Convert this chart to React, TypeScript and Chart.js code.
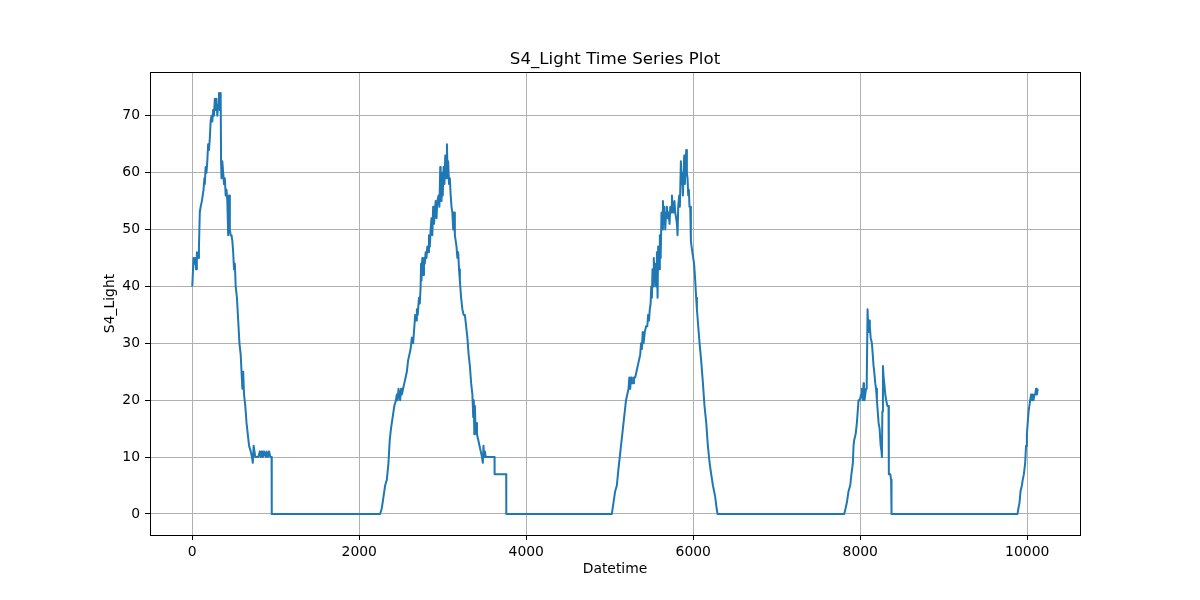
import React, { useEffect, useRef } from "react";
import { Chart, registerables } from "chart.js";

Chart.register(...registerables);

const chartTitle = "S4_Light Time Series Plot";
const xAxisTitle = "Datetime";
const yAxisTitle = "S4_Light";
const xTicks = [0, 2000, 4000, 6000, 8000, 10000];
const yTicks = [0, 10, 20, 30, 40, 50, 60, 70];

// [index, S4_Light]
const day1: [number, number][] = [
  [0, 40], [15, 45], [25, 44], [35, 45], [45, 43], [55, 46], [70, 45], [80, 47], [90, 53], [100, 54],
  [115, 55], [125, 56], [135, 57], [145, 59], [150, 58], [160, 61], [170, 60], [180, 62], [190, 65],
  [200, 64], [210, 66], [220, 69], [230, 70], [240, 69], [250, 71], [260, 70], [270, 73], [280, 71],
  [290, 73], [300, 70], [310, 72], [320, 74], [330, 71], [340, 74], [345, 62], [350, 59], [360, 62],
  [370, 60], [380, 58], [390, 59], [400, 56], [410, 57], [420, 55], [430, 49], [440, 56], [450, 50],
  [460, 49], [470, 49], [480, 48], [490, 46], [500, 43], [510, 44], [520, 40], [535, 38], [550, 34],
  [565, 30], [580, 28], [590, 25], [600, 22], [610, 25], [620, 21], [635, 19], [650, 16], [665, 14],
  [680, 12], [700, 11], [715, 10], [725, 9], [735, 12], [745, 11], [755, 10], [790, 10], [810, 11],
  [820, 10], [835, 11], [845, 10], [860, 11], [880, 10], [890, 11], [905, 10], [920, 11], [935, 10],
  [950, 10], [952, 0],
];
const night1: [number, number][] = [[952, 0], [2250, 0]];
const day2: [number, number][] = [
  [2250, 0], [2270, 1], [2290, 3], [2310, 5], [2330, 6], [2350, 9], [2365, 13], [2380, 15], [2400, 17],
  [2420, 19], [2440, 20], [2450, 21], [2460, 20], [2470, 22], [2480, 21], [2490, 20], [2500, 22],
  [2510, 21], [2525, 22], [2540, 23], [2555, 24], [2570, 25], [2585, 27], [2600, 28], [2615, 29],
  [2630, 31], [2645, 30], [2660, 33], [2670, 35], [2680, 34], [2690, 36], [2700, 35], [2715, 38],
  [2725, 37], [2735, 40], [2740, 44], [2745, 41], [2755, 45], [2765, 42], [2775, 45], [2785, 44],
  [2795, 46], [2805, 45], [2815, 47], [2825, 46], [2835, 49], [2845, 47], [2855, 50], [2865, 52],
  [2875, 49], [2885, 54], [2895, 51], [2905, 53], [2915, 55], [2925, 52], [2935, 55], [2950, 56],
  [2960, 54], [2970, 61], [2975, 57], [2985, 55], [2995, 60], [3000, 56], [3010, 61], [3020, 58],
  [3030, 63], [3040, 59], [3050, 65], [3058, 60], [3065, 62], [3075, 58], [3085, 59], [3095, 56],
  [3105, 54], [3115, 53], [3125, 50], [3135, 53], [3145, 49], [3155, 48], [3165, 47], [3175, 45],
  [3185, 46], [3195, 43], [3205, 41], [3220, 38], [3235, 36], [3250, 35], [3265, 35], [3280, 33],
  [3295, 31], [3310, 28], [3325, 26], [3340, 23], [3355, 21], [3365, 17], [3372, 20], [3378, 14],
  [3385, 19], [3392, 15], [3400, 16], [3410, 14], [3425, 13], [3440, 12], [3455, 11], [3470, 10],
  [3480, 9], [3488, 12], [3495, 10], [3505, 11], [3515, 10], [3530, 10], [3620, 10], [3621, 7],
  [3760, 7], [3761, 0],
];
const night2: [number, number][] = [[3761, 0], [5025, 0]];
const day3: [number, number][] = [
  [5025, 0], [5045, 2], [5065, 4], [5085, 5], [5105, 8], [5120, 10], [5135, 12], [5150, 14], [5165, 16],
  [5180, 18], [5195, 20], [5210, 21], [5225, 22], [5235, 24], [5245, 22], [5255, 24], [5265, 23],
  [5280, 23], [5290, 24], [5305, 24], [5320, 25], [5335, 26], [5350, 27], [5365, 28], [5375, 30],
  [5385, 29], [5395, 32], [5405, 30], [5420, 32], [5435, 33], [5450, 33], [5460, 35], [5470, 34],
  [5480, 36], [5490, 37], [5497, 40], [5505, 38], [5512, 43], [5520, 40], [5528, 45], [5535, 41],
  [5545, 44], [5555, 40], [5565, 46], [5573, 38], [5580, 47], [5590, 43], [5600, 49], [5610, 45],
  [5620, 53], [5630, 50], [5637, 55], [5645, 51], [5655, 54], [5665, 50], [5675, 53], [5685, 54],
  [5695, 52], [5705, 53], [5716, 51], [5725, 54], [5735, 53], [5745, 56], [5752, 54], [5765, 53],
  [5775, 55], [5784, 53], [5795, 52], [5805, 51], [5812, 49], [5820, 54], [5832, 56], [5840, 54],
  [5852, 62], [5860, 58], [5868, 60], [5876, 56], [5885, 60], [5892, 63], [5900, 58], [5908, 61],
  [5916, 64], [5924, 60], [5932, 59], [5940, 56], [5948, 57], [5955, 54], [5964, 54], [5972, 48],
  [5980, 47], [5990, 46], [6000, 45], [6010, 44], [6024, 41], [6035, 38], [6044, 36], [6060, 33],
  [6076, 30], [6095, 27], [6116, 23], [6135, 19], [6156, 16], [6175, 12], [6196, 9], [6215, 7],
  [6236, 5], [6250, 4], [6263, 3], [6280, 1], [6291, 0],
];
const night3: [number, number][] = [[6291, 0], [7808, 0]];
const day4: [number, number][] = [
  [7808, 0], [7825, 1], [7840, 2], [7860, 4], [7880, 5], [7895, 7], [7912, 9], [7920, 12], [7928, 13],
  [7945, 14], [7960, 16], [7970, 18], [7980, 20], [7995, 20], [8010, 21], [8020, 22], [8030, 20],
  [8040, 23], [8045, 21], [8052, 20], [8060, 21], [8070, 22], [8078, 23], [8088, 36], [8095, 33],
  [8100, 32], [8108, 34], [8115, 33], [8125, 31], [8140, 30], [8150, 28], [8160, 26], [8168, 25],
  [8180, 23], [8190, 22], [8200, 20], [8210, 18], [8220, 16], [8232, 15], [8245, 12], [8255, 11],
  [8260, 10], [8265, 18], [8272, 26], [8280, 24], [8288, 23], [8300, 21], [8311, 20], [8325, 19],
  [8339, 19], [8343, 7], [8360, 7], [8370, 6], [8375, 0],
];
const night4: [number, number][] = [[8375, 0], [9884, 0]];
const day5: [number, number][] = [
  [9884, 0], [9895, 1], [9908, 2], [9920, 4], [9936, 5], [9946, 6], [9960, 7], [9976, 9], [9986, 12],
  [9996, 14], [10006, 16], [10016, 18], [10026, 19], [10036, 20], [10046, 21], [10056, 20], [10066, 21],
  [10076, 20], [10086, 21], [10096, 21], [10106, 22], [10116, 21], [10126, 22],
];

const segments = [day1, night1, day2, night2, day3, night3, day4, night4, day5];

export default function App() {
  const ref = useRef<HTMLCanvasElement | null>(null);

  useEffect(() => {
    document.body.style.margin = "0";
    const canvas = ref.current;
    if (!canvas) return;

    const points: { x: number; y: number }[] = [];
    segments.forEach((seg, si) => {
      seg.forEach(([x, y], i) => {
        if (si > 0 && i === 0) return;
        points.push({ x, y });
      });
    });
    const xsAll = points.map((p) => p.x);
    const ysAll = points.map((p) => p.y);
    const xMinD = Math.min(...xsAll);
    const xMaxD = Math.max(...xsAll);
    const yMinD = Math.min(...ysAll);
    const yMaxD = Math.max(...ysAll);
    const xPad = (xMaxD - xMinD) * 0.05;
    const yPad = (yMaxD - yMinD) * 0.05;

    const font = "'DejaVu Sans', sans-serif";

    const framePlugin = {
      id: "frame",
      afterDraw(chart: any) {
        const { ctx, chartArea } = chart;
        ctx.save();
        ctx.strokeStyle = "#000";
        ctx.lineWidth = 1;
        ctx.strokeRect(
          Math.round(chartArea.left) + 0.5,
          Math.round(chartArea.top) + 0.5,
          Math.round(chartArea.right - chartArea.left),
          Math.round(chartArea.bottom - chartArea.top)
        );
        ctx.fillStyle = "#000";
        ctx.font = `16.67px ${font}`;
        ctx.textAlign = "center";
        ctx.textBaseline = "alphabetic";
        ctx.fillText(chartTitle, (chartArea.left + chartArea.right) / 2, chartArea.top - 8.5);
        ctx.restore();
      },
    };

    const chart = new Chart(canvas, {
      type: "line",
      data: {
        datasets: [
          {
            label: yAxisTitle,
            data: points,
            borderColor: "#1f77b4",
            borderWidth: 2,
            pointRadius: 0,
            fill: false,
            tension: 0,
            borderJoinStyle: "round",
          } as any,
        ],
      },
      options: {
        animation: false,
        responsive: false,
        maintainAspectRatio: false,
        layout: { padding: { left: 90, right: 120, top: 72, bottom: 20 } },
        plugins: {
          legend: { display: false },
          title: { display: false },
          tooltip: { enabled: false },
        },
        scales: {
          x: {
            type: "linear",
            min: xMinD - xPad,
            max: xMaxD + xPad,
            afterFit: (axis: any) => {
              axis.height = 45;
            },
            afterBuildTicks: (axis: any) => {
              axis.ticks = xTicks.map((v) => ({ value: v }));
            },
            grid: {
              color: "#b0b0b0",
              lineWidth: 1,
              tickColor: "#000",
              tickLength: 5,
              tickWidth: 1,
            } as any,
            border: { display: false },
            ticks: {
              color: "#000",
              padding: 4,
              font: { family: font, size: 13.9 },
              maxRotation: 0,
              callback: (v: any) => String(v),
            },
            title: {
              display: true,
              text: xAxisTitle,
              color: "#000",
              font: { family: font, size: 13.9 },
              padding: { top: 0, bottom: 2.7 },
            },
          },
          y: {
            type: "linear",
            min: yMinD - yPad,
            max: yMaxD + yPad,
            afterFit: (axis: any) => {
              axis.width = 60;
            },
            afterBuildTicks: (axis: any) => {
              axis.ticks = yTicks.map((v) => ({ value: v }));
            },
            grid: {
              color: "#b0b0b0",
              lineWidth: 1,
              tickColor: "#000",
              tickLength: 5,
              tickWidth: 1,
            } as any,
            border: { display: false },
            ticks: {
              color: "#000",
              padding: 5,
              font: { family: font, size: 13.9 },
              callback: (v: any) => String(v),
            },
            title: {
              display: true,
              text: yAxisTitle,
              color: "#000",
              font: { family: font, size: 13.9 },
              padding: { top: 11.7, bottom: 0 },
            },
          },
        },
      },
      plugins: [framePlugin],
    });

    return () => {
      chart.destroy();
    };
  }, []);

  return (
    <div style={{ width: 1200, height: 600 }}>
      <canvas ref={ref} width={1200} height={600} style={{ display: "block", width: 1200, height: 600 }} />
    </div>
  );
}
